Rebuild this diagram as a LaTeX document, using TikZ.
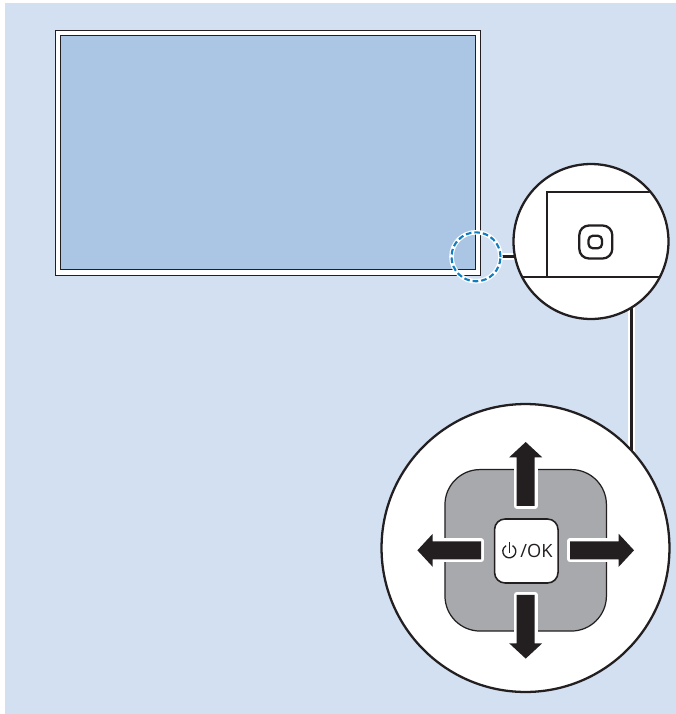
\documentclass[tikz,border=0pt]{standalone}
\usepackage{fontspec}
\setmainfont{Open Sans}
\usepackage{xcolor}
\definecolor{wallblue}{HTML}{D3E0F2}
\definecolor{screenblue}{HTML}{ABC5E4}
\definecolor{padgrey}{HTML}{A7A9AC}
\definecolor{spotblue}{HTML}{0F7DC2}
\definecolor{inkblack}{HTML}{231F20}
\pgfdeclarelayer{wall}
\pgfdeclarelayer{wires}
\pgfsetlayers{wall,wires,main}
\tikzset{
  lens/.style={circle,draw=inkblack,fill=white,line width=1.3pt,inner sep=0pt,outer sep=0pt},
  spot/.style={circle,draw=white,line width=2.6pt,inner sep=0pt,outer sep=0pt,minimum size=0.98cm,
    postaction={draw=spotblue,line width=1.2pt,dash pattern=on 3.2pt off 1.7pt}},
  keybox/.style={rectangle,draw=inkblack,inner sep=0pt,outer sep=0pt},
  halo/.style={draw=white,line width=3.4pt},
  wire/.style={draw=inkblack,line width=1.5pt},
  wirehalo/.style={draw=white,line width=3.8pt},
}
\begin{document}
\begin{tikzpicture}[x=0.02cm,y=-0.02cm]
  \useasboundingbox (0,0) rectangle (676,714);
  % monitor
  \begin{pgfonlayer}{wall}
    \fill[wallblue] (5,3) rectangle (676,714);
    \draw[inkblack,fill=white,line width=0.7pt] (55.5,30.5) rectangle (480.5,275.5);
    \draw[inkblack,fill=screenblue,line width=0.7pt] (60.5,35.5) rectangle (475.5,269.5);
  \end{pgfonlayer}
  % zoom circles
  \node[spot] (spot) at (476,256.8) {};
  \node[lens,minimum size=3.1cm] (lens) at (591,241.5) {};
  \node[lens,minimum size=5.76cm] (dial) at (525.5,548) {};
  \begin{scope}
    \clip (lens.center) circle (76.5);
    \draw[inkblack,line width=0.9pt] (546.8,277) |- (700,192);
    \draw[inkblack,line width=0.9pt] (500,277) -- (700,277);
  \end{scope}
  \node[keybox,fill=white,line width=1.3pt,rounded corners=5.5pt,minimum size=0.66cm] (btnout) at (595.8,242) {};
  \node[keybox,fill=white,line width=1.3pt,rounded corners=2.4pt,minimum width=0.27cm,minimum height=0.25cm] (btnin) at (595.3,242) {};
  % connectors
  \coordinate (stemtop) at (lens.center -| 631.7,0);
  \coordinate (stembot) at (dial.center -| 631.7,0);
  \begin{pgfonlayer}{wires}
    \draw[wirehalo] (spot.east) -- (spot.east -| lens.center);
    \draw[wire] (spot.east) -- (spot.east -| lens.center);
    \draw[wirehalo] (stemtop) -- (stembot);
    \draw[wire] (stemtop) -- (stembot);
  \end{pgfonlayer}
  % keypad
  \node[keybox,fill=padgrey,line width=0.7pt,rounded corners=20pt,minimum size=3.23cm] (pad) at (525.7,550.3) {};
  \foreach \ang in {0,90,180,270}{
    \begin{scope}[shift={(pad.center)},rotate=\ang]
      \path[halo,line join=round] (44.5,-9) -- (92.5,-9) -- (92.5,9) -- (44.5,9) -- cycle;
      \fill[inkblack] (44.5,-9) -- (93,-9) -- (93,-16.5) -- (108.3,0) -- (93,16.5) -- (93,9) -- (44.5,9) -- cycle;
    \end{scope}}
  \node[keybox,fill=white,line width=0.9pt,rounded corners=6pt,minimum width=1.27cm,minimum height=1.28cm] (okkey) at (526.3,551) {};
  \coordinate (powcentre) at (509.3,551.3);
  \draw[inkblack,line width=0.75pt] (powcentre) ++(3.25,-5.63) arc[start angle=-60,end angle=240,radius=6.5];
  \draw[inkblack,line width=0.75pt] (509.3,542.3) -- (509.3,552.5);
  \node[inner sep=0pt,text=inkblack,font=\fontsize{10.4}{12}\selectfont] (oklabel) at (536.5,551.3) {/OK};
\end{tikzpicture}
\end{document}
